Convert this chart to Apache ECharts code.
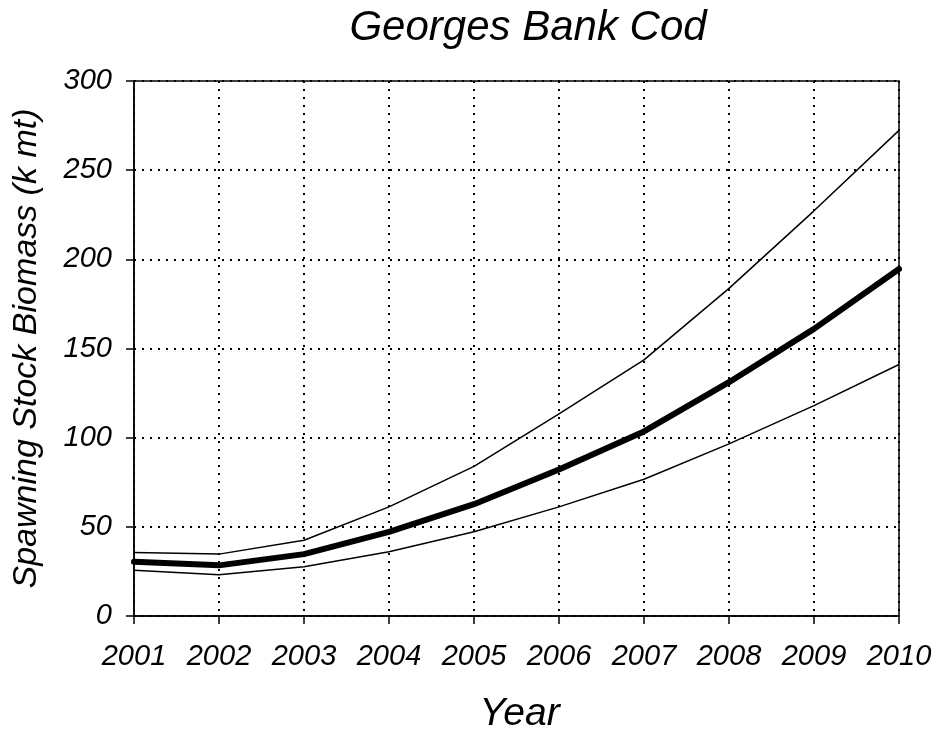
<!DOCTYPE html>
<html>
<head>
<meta charset="utf-8">
<script src="https://cdn.jsdelivr.net/npm/echarts@6/dist/echarts.min.js"></script>
<style>
html,body{margin:0;padding:0;background:#fff;}
#chart{width:937px;height:732px;}
</style>
</head>
<body>
<div id="chart"></div>
<script>
var years = ['2001','2002','2003','2004','2005','2006','2007','2008','2009','2010'];
var upperBound = [35.6, 34.7, 42.5, 61.2, 83.9, 113.4, 143.6, 183.7, 227.2, 272.3];
var ssbEstimate = [30.4, 28.4, 34.7, 47.2, 62.7, 82.1, 103.5, 131.1, 161.0, 194.6];
var lowerBound = [25.7, 23.1, 27.6, 36.0, 47.2, 61.2, 76.7, 96.5, 118.0, 141.0];
var yTicks = [0, 50, 100, 150, 200, 250, 300];

var FONT = '"Liberation Sans", Arial, sans-serif';
var chart = echarts.init(document.getElementById('chart'), null, {renderer: 'canvas'});
var dotted = {color: '#000', width: 2, type: [2, 6]};
chart.setOption({
  animation: false,
  backgroundColor: '#fff',
  title: {
    text: 'Georges Bank Cod',
    left: 523, top: 2, textAlign: 'center',
    textStyle: {fontFamily: FONT, fontStyle: 'italic', fontWeight: 'normal', fontSize: 42, color: '#000'}
  },
  grid: {left: 134, right: 38, top: 81, bottom: 116, show: true, borderColor: '#000', borderWidth: 1.5, containLabel: false, outerBoundsMode: 'none'},
  xAxis: {
    type: 'category', data: years, boundaryGap: false,
    name: 'Year', nameLocation: 'middle', nameGap: 79,
    nameTextStyle: {fontFamily: FONT, fontStyle: 'italic', fontSize: 39, color: '#000', padding: [0, 0, 0, 6]},
    axisLine: {show: true, lineStyle: {color: '#000', width: 1.5}},
    axisTick: {show: true, inside: false, length: 8, alignWithLabel: true, lineStyle: {color: '#000', width: 1.5}},
    axisLabel: {fontFamily: FONT, fontStyle: 'italic', fontSize: 29, color: '#000', margin: 26, interval: 0},
    splitLine: {show: true, lineStyle: dotted}
  },
  yAxis: {
    type: 'value', min: yTicks[0], max: yTicks[yTicks.length - 1], interval: 50,
    name: 'Spawning Stock Biomass (k mt)', nameLocation: 'middle', nameRotate: 90, nameGap: 90,
    nameTextStyle: {fontFamily: FONT, fontStyle: 'italic', fontSize: 34, color: '#000'},
    axisLine: {show: true, lineStyle: {color: '#000', width: 1.5}},
    axisTick: {show: true, inside: false, length: 8, lineStyle: {color: '#000', width: 1.5}},
    axisLabel: {fontFamily: FONT, fontStyle: 'italic', fontSize: 29, color: '#000', margin: 22},
    splitLine: {show: true, lineStyle: dotted}
  },
  series: [
    {name: 'Upper', type: 'line', data: upperBound, symbol: 'none', lineStyle: {color: '#000', width: 1.5}, z: 3},
    {name: 'Lower', type: 'line', data: lowerBound, symbol: 'none', lineStyle: {color: '#000', width: 1.5}, z: 3},
    {name: 'SSB', type: 'line', data: ssbEstimate, symbol: 'none', lineStyle: {color: '#000', width: 6, cap: 'round', join: 'round'}, z: 4}
  ]
});
</script>
</body>
</html>
